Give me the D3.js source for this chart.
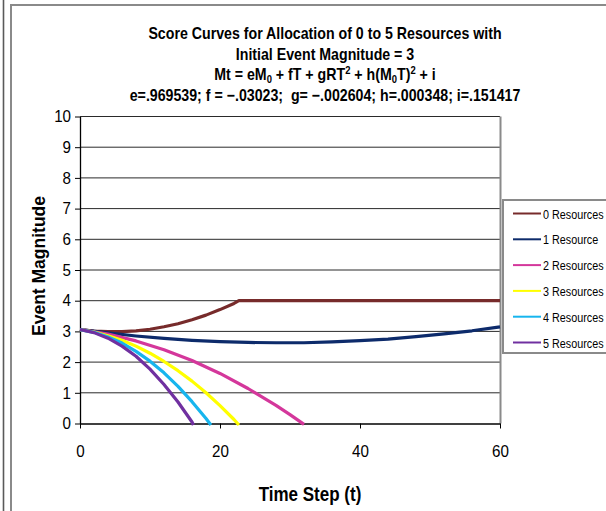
<!DOCTYPE html>
<html>
<head>
<meta charset="utf-8">
<script src="https://cdn.jsdelivr.net/npm/d3@7"></script>
<style>
  body { margin: 0; background: #fff; }
  svg { display: block; }
  text { font-family: "Liberation Sans", Arial, Helvetica, sans-serif; fill: #000; }
</style>
</head>
<body>
<svg id="chart" width="606" height="511"></svg>
<script>
// Series labels and colours
const seriesNames = ["0 Resources", "1 Resource", "2 Resources", "3 Resources", "4 Resources", "5 Resources"];
const seriesColors = ["#772b2b", "#0d2b6b", "#d4379b", "#ffff00", "#17b5ee", "#7030a0"];

// Event magnitude per time step, one pair of arrays per allocation level
const t0 = [0, 2, 4, 6, 8, 10, 12, 14, 16, 18, 20, 22, 22.7, 60];
const m0 = [3.06, 3.01, 2.99, 2.99, 3.02, 3.07, 3.15, 3.25, 3.38, 3.53, 3.71, 3.91, 4.0, 4.0];

const t1 = [0, 4, 8, 12, 16, 20, 24, 28, 32, 36, 40, 44, 48, 52, 56, 60];
const m1 = [3.06, 2.95, 2.85, 2.77, 2.71, 2.67, 2.64, 2.63, 2.63, 2.66, 2.70, 2.75, 2.83, 2.92, 3.02, 3.15];

const t2 = [0, 4, 8, 12, 16, 20, 24, 28, 30, 32];
const m2 = [3.06, 2.91, 2.69, 2.40, 2.05, 1.63, 1.14, 0.59, 0.29, -0.03];

const t3 = [0, 2, 4, 6, 8, 10, 12, 14, 16, 18, 20, 22, 22.7];
const m3 = [3.06, 2.98, 2.86, 2.71, 2.52, 2.29, 2.02, 1.72, 1.38, 1.00, 0.58, 0.13, -0.05];

const t4 = [0, 2, 4, 6, 8, 10, 12, 14, 16, 18, 18.7];
const m4 = [3.06, 2.97, 2.82, 2.62, 2.35, 2.03, 1.65, 1.21, 0.71, 0.16, -0.05];

const t5 = [0, 2, 4, 6, 8, 10, 12, 14, 16, 16.2];
const m5 = [3.06, 2.96, 2.78, 2.52, 2.19, 1.77, 1.27, 0.70, 0.05, -0.05];

const seriesT = [t0, t1, t2, t3, t4, t5];
const seriesM = [m0, m1, m2, m3, m4, m5];

// Axis ticks
const xTicks = [0, 20, 40, 60];
const yTicks = [0, 1, 2, 3, 4, 5, 6, 7, 8, 9, 10];

const svg = d3.select("#chart");

// Outer frames
svg.append("line").attr("x1", 3.5).attr("x2", 3.5).attr("y1", 0).attr("y2", 511)
  .attr("stroke", "#5a5a5a").attr("stroke-width", 1.6);
svg.append("rect").attr("x", 11).attr("y", 5).attr("width", 700).attr("height", 600)
  .attr("fill", "#fff").attr("stroke", "#8a8a8a").attr("stroke-width", 2);

const x = d3.scaleLinear().domain([0, 60]).range([80, 500]);
const y = d3.scaleLinear().domain([0, 10]).range([423.5, 116.5]);

// Horizontal gridlines
svg.append("g").selectAll("line").data(yTicks.filter(v => v > 0)).join("line")
  .attr("x1", x(0)).attr("x2", x(60))
  .attr("y1", d => y(d)).attr("y2", d => y(d))
  .attr("stroke", "#2a2a2a").attr("stroke-width", 1);

// Plot area right border
svg.append("line").attr("x1", x(60) + 0.5).attr("x2", x(60) + 0.5)
  .attr("y1", y(10)).attr("y2", y(0))
  .attr("stroke", "#8a8a8a").attr("stroke-width", 2);

// Axes
const yAxis = d3.axisLeft(y).tickValues(yTicks).tickSize(5).tickSizeOuter(0).tickPadding(9);
const gy = svg.append("g").attr("transform", `translate(${x(0)},0)`).call(yAxis);
const xAxis = d3.axisBottom(x).tickValues(xTicks).tickSize(5).tickSizeOuter(0).tickPadding(17);
const gx = svg.append("g").attr("transform", `translate(0,${y(0)})`).call(xAxis);
[gx, gy].forEach(g => {
  g.select(".domain").attr("stroke", "#000").attr("stroke-width", 1.3);
  g.selectAll(".tick line").attr("stroke", "#000").attr("stroke-width", 1);
  g.selectAll(".tick text").attr("font-size", 16.5).attr("font-family", "Liberation Sans, Arial, sans-serif")
    .attr("transform", "scale(0.92,1)");
});
// keep the scaled tick labels anchored where the axis placed them
gy.selectAll(".tick text").attr("x", -9 / 0.92).attr("transform", "scale(0.92,1)");

// Curves
const line = d3.line().x(d => x(d[0])).y(d => y(d[1]));
seriesNames.forEach((name, i) => {
  const pts = seriesT[i].map((t, k) => [t, seriesM[i][k]]);
  svg.append("path").datum(pts)
    .attr("d", line)
    .attr("fill", "none")
    .attr("stroke", seriesColors[i])
    .attr("stroke-width", 3.2)
    .attr("stroke-linejoin", "round");
});

// Title
const titleX = 325;
function titleLine(yPos) {
  return svg.append("g").attr("transform", `translate(${titleX},${yPos}) scale(0.86,1)`)
    .append("text").attr("text-anchor", "middle")
    .attr("font-size", 16.5).attr("font-weight", "bold");
}
titleLine(39).text("Score Curves for Allocation of 0 to 5 Resources with");
titleLine(60).text("Initial Event Magnitude = 3");
const l3 = titleLine(80);
l3.append("tspan").text("Mt = eM");
l3.append("tspan").attr("dy", 3).attr("font-size", 11).text("0");
l3.append("tspan").attr("dy", -3).text(" + fT + gRT");
l3.append("tspan").attr("dy", -6).attr("font-size", 11).text("2");
l3.append("tspan").attr("dy", 6).text(" + h(M");
l3.append("tspan").attr("dy", 3).attr("font-size", 11).text("0");
l3.append("tspan").attr("dy", -3).text("T)");
l3.append("tspan").attr("dy", -6).attr("font-size", 11).text("2");
l3.append("tspan").attr("dy", 6).text(" + i");
titleLine(101).attr("xml:space", "preserve").style("white-space", "pre")
  .text("e=.969539; f = \u2212.03023;  g= \u2212.002604; h=.000348; i=.151417");

// Axis titles
svg.append("text")
  .attr("transform", `translate(45,266)rotate(-90)`)
  .attr("text-anchor", "middle")
  .attr("font-size", 17.5).attr("font-weight", "bold")
  .text("Event Magnitude");
svg.append("g").attr("transform", "translate(310,501) scale(0.85,1)")
  .append("text").attr("text-anchor", "middle")
  .attr("font-size", 20).attr("font-weight", "bold")
  .text("Time Step (t)");

// Legend
const legend = svg.append("g");
legend.append("rect").attr("x", 503).attr("y", 200).attr("width", 200).attr("height", 153)
  .attr("fill", "#fff").attr("stroke", "#8a8a8a").attr("stroke-width", 2);
seriesNames.forEach((name, i) => {
  const ly = 213.5 + i * 25.8;
  legend.append("line").attr("x1", 513).attr("x2", 541).attr("y1", ly).attr("y2", ly)
    .attr("stroke", seriesColors[i]).attr("stroke-width", 2);
  legend.append("g").attr("transform", `translate(543,${ly + 5}) scale(0.8,1)`)
    .append("text").attr("font-size", 13.5).text(name);
});
</script>
</body>
</html>
